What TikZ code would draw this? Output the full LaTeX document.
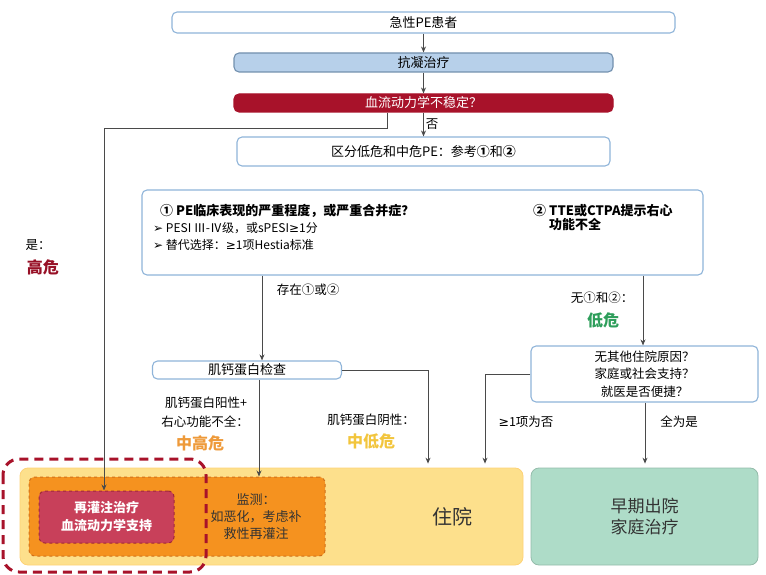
\documentclass[tikz,border=0pt]{standalone}
\usepackage{fontspec}
\setmainfont{Noto Sans CJK SC}
\newfontfamily\dejavu{DejaVu Sans}
\usetikzlibrary{arrows.meta}
\definecolor{bordblue}{HTML}{8FB4D9}
\definecolor{fillblue}{HTML}{B7D0EA}
\definecolor{darkred}{HTML}{A8122A}
\definecolor{lineg}{HTML}{4A4A4A}
\definecolor{yel}{HTML}{FDE08C}
\definecolor{mint}{HTML}{AEDCC8}
\definecolor{orng}{HTML}{F5921F}
\definecolor{orngd}{HTML}{D0701A}
\definecolor{crim}{HTML}{C8405A}
\definecolor{crimd}{HTML}{A02838}
\definecolor{grn}{HTML}{2E9E5B}
\definecolor{midhigh}{HTML}{EE9A3A}
\definecolor{midlow}{HTML}{F2C53D}
\definecolor{txtg}{HTML}{333333}
\newcommand{\mygeq}{{\dejavu ≥}}
\tikzset{
  flowbox/.style={draw=bordblue, line width=1.1pt, fill=white, rounded corners=5pt, inner sep=0pt, font=\fontsize{13}{15}\selectfont},
  arr/.style={draw=lineg, line width=0.9pt, -{Stealth[length=6pt,width=5pt]}},
  ln/.style={draw=lineg, line width=0.9pt},
  lbl/.style={inner sep=0pt, font=\fontsize{12.5}{15}\selectfont},
  risk/.style={inner sep=0pt, font=\fontsize{16}{18}\selectfont\bfseries},
}
\begin{document}
\begin{tikzpicture}[x=1pt,y=-1pt]
\useasboundingbox (0,0) rectangle (766,575);
% top boxes
\node[flowbox, minimum width=503pt, minimum height=21pt] (b1) at (423.5,22.5) {急性PE患者};
\node[flowbox, fill=fillblue, draw=bordblue!80!black, minimum width=379pt, minimum height=19pt] (b2) at (423.5,62.5) {抗凝治疗};
\node[flowbox, fill=darkred, draw=darkred, text=white, minimum width=379pt, minimum height=18pt] (b3) at (423.5,103) {血流动力学不稳定？};
\node[flowbox, minimum width=373pt, minimum height=29pt] (b4) at (423.5,151.5) {区分低危和中危PE：参考\textbf{①}和\textbf{②}};
\draw[arr] (b1) -- (b2);
\draw[arr] (b2) -- (b3);
\draw[arr] (b3) -- node[right, lbl, xshift=2pt] (no) {否} (b4);
% big criteria box
\node[flowbox, minimum width=561pt, minimum height=85pt] (b5) at (422.5,232.5) {};
\node[anchor=west, inner sep=0pt, font=\fontsize{13}{15}\selectfont\bfseries] (c1t) at (160,211) {① PE临床表现的严重程度，或严重合并症？};
\node[anchor=west, inner sep=0pt, font=\fontsize{12}{14}\selectfont] (c1a) at (153,228) {{\dejavu\fontsize{12}{14}\selectfont ➢} PESI Ⅲ-Ⅳ级，或sPESI\mygeq 1分};
\node[anchor=west, inner sep=0pt, font=\fontsize{12}{14}\selectfont] (c1b) at (153,245) {{\dejavu\fontsize{12}{14}\selectfont ➢} 替代选择：\mygeq 1项Hestia标准};
\node[anchor=north west, inner sep=0pt, align=left, font=\fontsize{13}{14}\selectfont\bfseries] (c2t) at (533,204) {② TTE或CTPA提示右心\\\hspace{16pt}功能不全};
% high risk branch
\coordinate (h1) at (387,128);
\coordinate (h2) at (104,128);
\node[lbl] (yes) at (38,245) {是：};
\node[risk, text=darkred!90!black] (high) at (43,267) {高危};
% bottom boxes
\node[draw=yel!85!orange, line width=0.8pt, fill=yel, rounded corners=8pt, minimum width=503pt, minimum height=97pt] (hosp) at (271.5,516.5) {};
\node[inner sep=0pt, font=\fontsize{20}{22}\selectfont, text=txtg] (hosptxt) at (452,517) {住院};
\node[draw=mint!85!black, line width=0.8pt, fill=mint, rounded corners=8pt, minimum width=227pt, minimum height=97pt, align=center, font=\fontsize{17}{21}\selectfont, text=txtg] (home) at (644.5,516.5) {早期出院\\家庭治疗};
\node[draw=orngd, dashed, line width=1pt, fill=orng, rounded corners=6pt, minimum width=296pt, minimum height=79pt] (mon) at (177,516.5) {};
\node[inner sep=0pt, align=center, font=\fontsize{13}{17}\selectfont, text=txtg] (montxt) at (256,517) {监测：\\如恶化，考虑补\\救性再灌注};
\node[draw=crimd, dashed, line width=1pt, fill=crim, rounded corners=6pt, minimum width=135pt, minimum height=52pt, align=center, text=white, font=\fontsize{13}{18}\selectfont\bfseries] (rep) at (106.5,517) {再灌注治疗\\血流动力学支持};
\draw[draw=darkred, line width=3pt, dash pattern=on 9pt off 6pt, rounded corners=16pt] (3,459) rectangle (206,572);
\draw[arr] (b3.south -| h1) -- (h1) -- (h2) -- (h2 |- rep.north);
% troponin
\node[flowbox, minimum width=189pt, minimum height=18pt] (trop) at (247,370) {肌钙蛋白检查};
\coordinate (t1) at (262,0);
\draw[arr] (b5.south -| t1) -- (trop.north -| t1);
\node[lbl] (exist) at (308,290) {存在①或②};
\coordinate (t2) at (428,0);
\draw[arr, shorten >=4pt] (trop.east) -- (trop.east -| t2) -- (hosp.north -| t2);
\coordinate (t3) at (259,0);
\draw[arr] (trop.south -| t3) -- (mon.north -| t3);
\node[lbl] (pos1) at (206,403) {肌钙蛋白阳性+};
\node[lbl] (pos2) at (205,422) {右心功能不全：};
\node[risk, text=midhigh] (mh) at (200,443) {中高危};
\node[lbl] (neg) at (371,420) {肌钙蛋白阴性：};
\node[risk, text=midlow] (ml) at (371,441) {中低危};
% low risk branch
\node[flowbox, minimum width=227pt, minimum height=56pt, align=center, font=\fontsize{12.5}{17.5}\selectfont] (q) at (644.5,374) {无其他住院原因？\\家庭或社会支持？\\就医是否便捷？};
\coordinate (r1) at (643,0);
\draw[arr] (b5.south -| r1) -- (q.north -| r1);
\node[lbl] (none) at (602,298) {无①和②：};
\node[risk, text=grn] (low) at (603,320) {低危};
\coordinate (r2) at (485,0);
\draw[arr, shorten >=4pt] (q.west) -- (q.west -| r2) -- (hosp.north -| r2);
\coordinate (r3) at (645,0);
\draw[arr, shorten >=4pt] (q.south -| r3) -- (home.north -| r3);
\node[lbl] (any) at (526,422) {\mygeq 1项为否};
\node[lbl] (all) at (679,422) {全为是};
\end{tikzpicture}
\end{document}
